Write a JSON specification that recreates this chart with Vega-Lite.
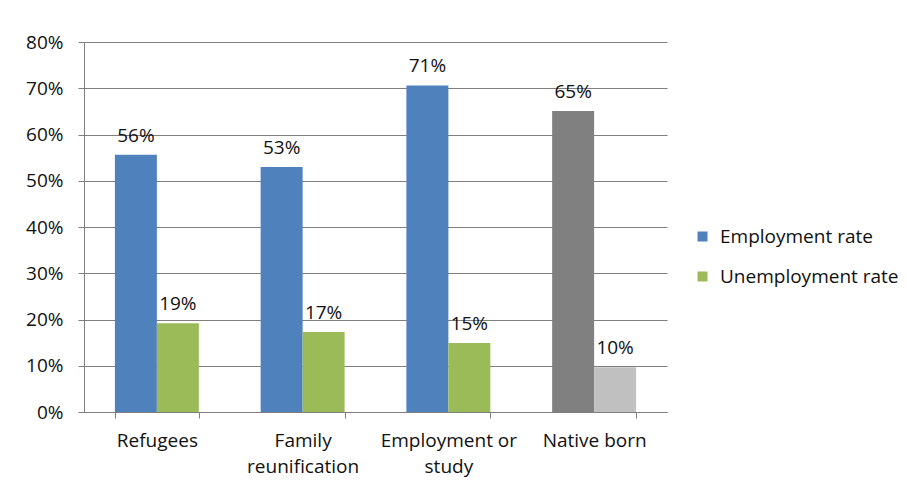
{
  "$schema": "https://vega.github.io/schema/vega-lite/v6.json",
  "width": 583,
  "height": 370,
  "autosize": {"type": "none"},
  "padding": {"left": 84, "top": 42, "right": 240, "bottom": 72},
  "background": "white",
  "config": {
    "font": "Open Sans",
    "view": {"stroke": null},
    "axis": {"labelFont": "Open Sans", "labelColor": "#111111", "labelFontSize": 19}
  },
  "data": {
    "values": [
      {"group": "Refugees", "measure": "Employment rate", "key": "Employment rate", "value": 0.556},
      {"group": "Refugees", "measure": "Unemployment rate", "key": "Unemployment rate", "value": 0.192},
      {"group": "Family reunification", "measure": "Employment rate", "key": "Employment rate", "value": 0.530},
      {"group": "Family reunification", "measure": "Unemployment rate", "key": "Unemployment rate", "value": 0.173},
      {"group": "Employment or study", "measure": "Employment rate", "key": "Employment rate", "value": 0.706},
      {"group": "Employment or study", "measure": "Unemployment rate", "key": "Unemployment rate", "value": 0.149},
      {"group": "Native born", "measure": "Employment rate", "key": "Native born employment", "value": 0.651},
      {"group": "Native born", "measure": "Unemployment rate", "key": "Native born unemployment", "value": 0.097}
    ]
  },
  "encoding": {
    "x": {
      "field": "group", "type": "nominal", "sort": null,
      "scale": {"paddingInner": 0.424, "paddingOuter": 0.212},
      "axis": {
        "title": null, "labelAngle": 0, "tickBand": "extent", "tickSize": 6,
        "tickColor": "#7f7f7f", "domainColor": "#7f7f7f", "labelPadding": 13,
        "labelLineHeight": 26, "labelBaseline": "top", "labelOverlap": false,
        "labelExpr": "datum.label == 'Family reunification' ? ['Family', 'reunification'] : datum.label == 'Employment or study' ? ['Employment or', 'study'] : datum.label"
      }
    },
    "xOffset": {"field": "measure", "type": "nominal", "sort": ["Employment rate", "Unemployment rate"], "scale": {"paddingInner": 0, "paddingOuter": 0}},
    "y": {
      "field": "value", "type": "quantitative",
      "scale": {"domain": [0, 0.8], "nice": false},
      "axis": {
        "title": null, "format": ".0%", "values": [0, 0.1, 0.2, 0.3, 0.4, 0.5, 0.6, 0.7, 0.8],
        "labelOverlap": false, "labelFlush": false,
        "gridColor": "#7f7f7f", "domainColor": "#7f7f7f", "tickColor": "#7f7f7f",
        "tickSize": 6, "labelPadding": 15
      }
    }
  },
  "layer": [
    {
      "mark": {"type": "bar"},
      "encoding": {
        "color": {
          "field": "key", "type": "nominal",
          "scale": {
            "domain": ["Employment rate", "Unemployment rate", "Native born employment", "Native born unemployment"],
            "range": ["#4F81BD", "#9BBB59", "#808080", "#C0C0C0"]
          },
          "legend": {
            "values": ["Employment rate", "Unemployment rate"],
            "title": null, "orient": "none", "legendX": 609, "legendY": 185,
            "symbolType": "square", "symbolSize": 100, "symbolStrokeWidth": 0,
            "labelFontSize": 19, "labelFont": "Open Sans", "labelColor": "#111111",
            "labelLimit": 260, "rowPadding": 20, "labelOffset": 8
          }
        }
      }
    },
    {
      "mark": {"type": "text", "baseline": "bottom", "dy": -9, "fontSize": 19, "color": "#111111", "font": "Open Sans"},
      "encoding": {
        "text": {"field": "value", "type": "quantitative", "format": ".0%"}
      }
    }
  ]
}
